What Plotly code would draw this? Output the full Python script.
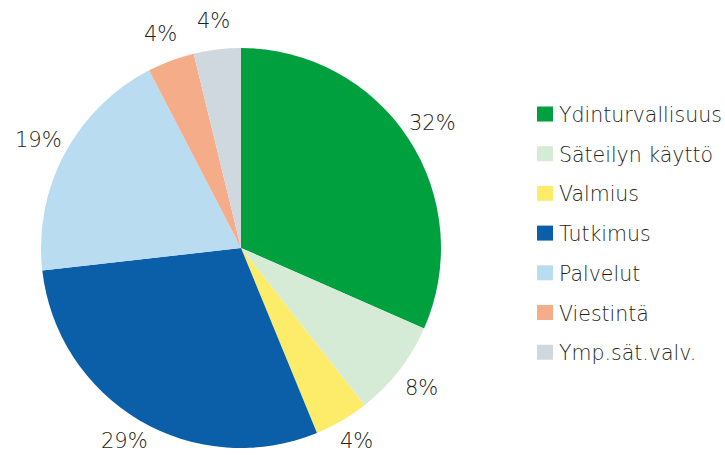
import math
import plotly.graph_objects as go

categories = ["Ydinturvallisuus", "Säteilyn käyttö", "Valmius", "Tutkimus",
              "Palvelut", "Viestintä", "Ymp.sät.valv."]
values = [31.6, 7.8, 4.4, 29.4, 19.2, 3.8, 3.8]
colors = ["#00a03e", "#d6ebd6", "#fcec6a", "#0b5ea8", "#badcf1", "#f5ad89", "#d0d8df"]

FONT = "DejaVu Sans"
TXT = "#231f20"
W, H = 725, 455
CX, CY, R = 241, 248, 200   # pie centre / radius in pixels

fig = go.Figure()
fig.add_trace(go.Pie(
    labels=categories, values=values, sort=False, direction="clockwise",
    rotation=0, marker=dict(colors=colors, line=dict(width=0)),
    textinfo="none", showlegend=False, hoverinfo="label+percent",
    domain=dict(x=[(CX - R) / W, (CX + R) / W], y=[(H - CY - R) / H, (H - CY + R) / H]),
))

# percentage labels placed at each slice's mid-angle
total = sum(values)
cum = 0.0
for v in values:
    mid = (cum + v / 2) / total * 2 * math.pi
    cum += v
    rl = R + 29
    px = CX + rl * math.sin(mid)
    py = min(CY - rl * math.cos(mid), H - 14)
    fig.add_annotation(xref="paper", yref="paper", x=px / W, y=1 - py / H,
                       text=f"{round(v / total * 100)}%", showarrow=False,
                       xanchor="center", yanchor="middle",
                       font=dict(family=FONT, size=21, color=TXT, weight=200))

# legend built from category/colour lists
y0, dy = 114, 39.7
for i, (c, col) in enumerate(zip(categories, colors)):
    yc = y0 + i * dy
    fig.add_shape(type="rect", xref="paper", yref="paper",
                  x0=537 / W, x1=553 / W, y0=1 - (yc + 7.5) / H, y1=1 - (yc - 7.5) / H,
                  fillcolor=col, line=dict(width=0))
    fig.add_annotation(xref="paper", yref="paper", x=557 / W, y=1 - (yc + 1) / H,
                       text=c, showarrow=False, xanchor="left", yanchor="middle",
                       font=dict(family=FONT, size=20.5, color=TXT, weight=200))

fig.update_layout(width=W, height=H, margin=dict(l=0, r=0, t=0, b=0),
                  paper_bgcolor="white", plot_bgcolor="white")
fig.write_html("out.html", config={"displayModeBar": False},
               post_script="document.body.style.margin='0';")
